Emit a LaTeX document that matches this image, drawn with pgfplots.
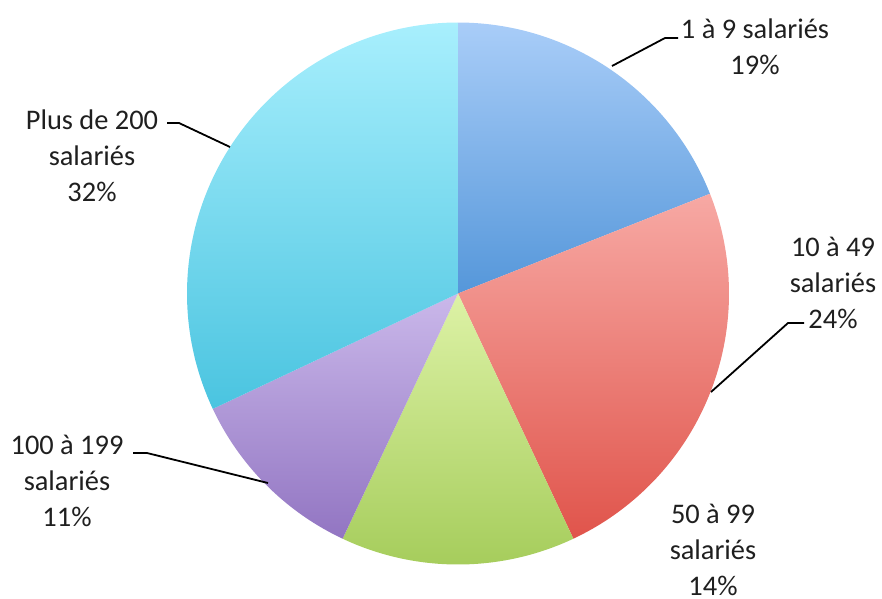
\documentclass[border=0pt]{standalone}
\usepackage{pgfplots}
\pgfplotsset{compat=1.18}
\usepackage{fontspec}
\setmainfont{Carlito}
\definecolor{bT}{HTML}{A9CDF8}\definecolor{bB}{HTML}{5597DA}
\definecolor{rT}{HTML}{F7A9A4}\definecolor{rB}{HTML}{E0544B}
\definecolor{gT}{HTML}{DDF2A6}\definecolor{gB}{HTML}{A6CD5C}
\definecolor{pT}{HTML}{CAB8EA}\definecolor{pB}{HTML}{9275C2}
\definecolor{cT}{HTML}{A8EFFD}\definecolor{cB}{HTML}{4AC4E0}
\begin{document}
\begin{tikzpicture}
\begin{axis}[hide axis, scale only axis, width=882bp, height=599bp,
  xmin=0, xmax=882, ymin=0, ymax=599, y dir=reverse, clip=false]
\path (axis cs:0,0) rectangle (axis cs:882,599);
% shares (percent): 19, 24, 14, 11, 32 ; start at 90 deg, clockwise, 3.6 deg per percent
\addplot[draw=none, top color=bT, bottom color=bB, domain={90-3.6*19}:{90}, samples=80]
  ({458+271*cos(x)},{293.5-271*sin(x)}) -- (axis cs:458,293.5) -- cycle;
\addplot[draw=none, top color=rT, bottom color=rB, domain={90-3.6*(19+24)}:{90-3.6*19}, samples=80]
  ({458+271*cos(x)},{293.5-271*sin(x)}) -- (axis cs:458,293.5) -- cycle;
\addplot[draw=none, top color=gT, bottom color=gB, domain={90-3.6*(19+24+14)}:{90-3.6*(19+24)}, samples=80]
  ({458+271*cos(x)},{293.5-271*sin(x)}) -- (axis cs:458,293.5) -- cycle;
\addplot[draw=none, top color=pT, bottom color=pB, domain={90-3.6*(19+24+14+11)}:{90-3.6*(19+24+14)}, samples=80]
  ({458+271*cos(x)},{293.5-271*sin(x)}) -- (axis cs:458,293.5) -- cycle;
\addplot[draw=none, top color=cT, bottom color=cB, domain={90-3.6*(19+24+14+11+32)}:{90-3.6*(19+24+14+11)}, samples=120]
  ({458+271*cos(x)},{293.5-271*sin(x)}) -- (axis cs:458,293.5) -- cycle;
% leader lines
\addplot[black, line width=1.8bp] coordinates {(612,66) (665,38) (678,38)};
\addplot[black, line width=1.8bp] coordinates {(711,392) (788,323) (804,323)};
\addplot[black, line width=1.8bp] coordinates {(133,453) (147,453) (268,483)};
\addplot[black, line width=1.8bp] coordinates {(167,123) (179,123) (230,147)};
% labels
\tikzset{lab/.style={align=center, text=black!88, font=\fontsize{28.5}{36}\selectfont, inner sep=0pt}}
\node[lab] at (axis cs:755,47) {1 à 9 salariés\\19\%};
\node[lab] at (axis cs:833,283) {10 à 49\\salariés\\24\%};
\node[lab] at (axis cs:713,550) {50 à 99\\salariés\\14\%};
\node[lab] at (axis cs:67,481) {100 à 199\\salariés\\11\%};
\node[lab] at (axis cs:92,156) {Plus de 200\\salariés\\32\%};
\end{axis}
\end{tikzpicture}
\end{document}
